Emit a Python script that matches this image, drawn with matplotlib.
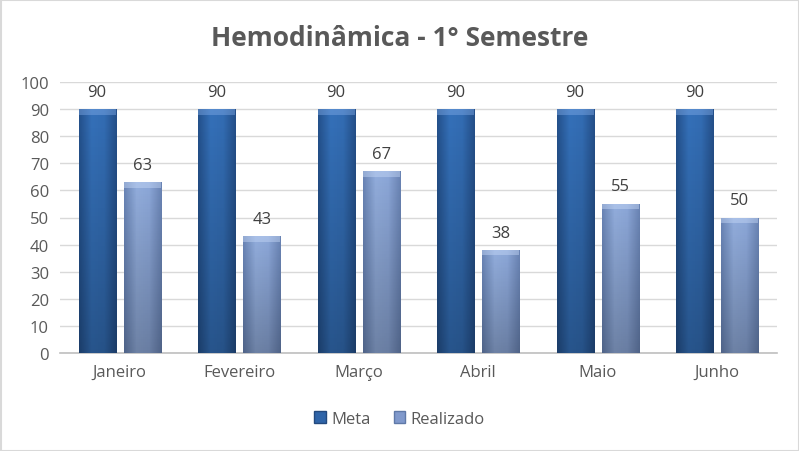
import matplotlib
matplotlib.use("Agg")
import matplotlib.pyplot as plt
import numpy as np
from matplotlib.patches import Rectangle
from matplotlib.colors import LinearSegmentedColormap

plt.rcParams['font.family'] = ['Open Sans', 'DejaVu Sans']

categories = ["Janeiro", "Fevereiro", "Março", "Abril", "Maio", "Junho"]
meta = [90, 90, 90, 90, 90, 90]
realizado = [63, 43, 67, 38, 55, 50]
title = "Hemodinâmica - 1° Semestre"

text_color = "#595959"
fig = plt.figure(figsize=(7.99, 4.52), dpi=100)
fig.patch.set_facecolor("white")
ax = fig.add_axes([60/799, 1-354/452, 717/799, (354-83)/452])

x = np.arange(len(categories))
w = 0.31
off = 0.19
b1 = ax.bar(x - off, meta, w, color="#2F64A8", zorder=3)
b2 = ax.bar(x + off, realizado, w, color="#8099CC", zorder=3)

cmap_meta = LinearSegmentedColormap.from_list("m", ["#24518C", "#3571BA", "#336DB4", "#25508A"])
cmap_real = LinearSegmentedColormap.from_list("r", ["#6A85B6", "#92ADDC", "#8CA7D8", "#6A84B4"])

grad = np.linspace(0, 1, 64).reshape(1, -1)
for bars, cm, top in ((b1, cmap_meta, "#7FAAE6"), (b2, cmap_real, "#C6D8F6")):
    for p in bars:
        x0, wd, h = p.get_x(), p.get_width(), p.get_height()
        im = ax.imshow(grad, cmap=cm, aspect="auto", extent=[x0, x0 + wd, 0, h], zorder=4)
        im.set_clip_path(p)
        # vertical darkening toward bottom
        vg = np.linspace(0, 1, 64).reshape(-1, 1)
        shade = np.zeros((64, 1, 4))
        shade[..., 3] = 0.25 * vg[:, :1]
        im2 = ax.imshow(shade, aspect="auto", extent=[x0, x0 + wd, 0, h], zorder=4.5, origin="upper")
        im2.set_clip_path(p)
        p.set_facecolor("none")
        ax.add_patch(Rectangle((x0, h - 2.0), wd, 2.0, facecolor=top, edgecolor="none", alpha=0.45, zorder=5))

for xi, v in zip(x - off, meta):
    ax.text(xi, v + 3.5, str(v), ha="center", va="bottom", fontsize=12, color="#404040")
for xi, v in zip(x + off, realizado):
    ax.text(xi, v + 3.5, str(v), ha="center", va="bottom", fontsize=12, color="#404040")

ax.set_xlim(-0.5, len(categories) - 0.5)
ax.set_ylim(0, 100)
ax.set_yticks(range(0, 101, 10))
ax.set_xticks(x)
ax.set_xticklabels(categories)
ax.tick_params(axis="both", length=0, labelsize=12, colors=text_color, pad=8)
ax.grid(axis="y", color="#D9D9D9", linewidth=1, zorder=0)
for s in ["top", "right", "left"]:
    ax.spines[s].set_visible(False)
ax.spines["bottom"].set_color("#BFBFBF")
ax.spines["bottom"].set_linewidth(1.2)

fig.text(0.5, 1 - 38/452, title, ha="center", va="center", fontsize=19, fontweight="bold", color=text_color)

h1 = Rectangle((0, 0), 1, 1, facecolor="#2F64A8", edgecolor="#23497E")
h2 = Rectangle((0, 0), 1, 1, facecolor="#8099CC", edgecolor="#5F79A8")
fig.legend([h1, h2], ["Meta", "Realizado"], loc="center", bbox_to_anchor=(0.5, 1 - 420/452),
           ncol=2, frameon=False, fontsize=12, labelcolor=text_color,
           handlelength=0.7, handleheight=0.7, handletextpad=0.3, columnspacing=1.4)

fig.add_artist(Rectangle((0.5/799, 0.5/452), 1 - 1/799, 1 - 1/452, transform=fig.transFigure,
                         fill=False, edgecolor="#D9D9D9", linewidth=1.5))

fig.savefig("out.png", dpi=100)
